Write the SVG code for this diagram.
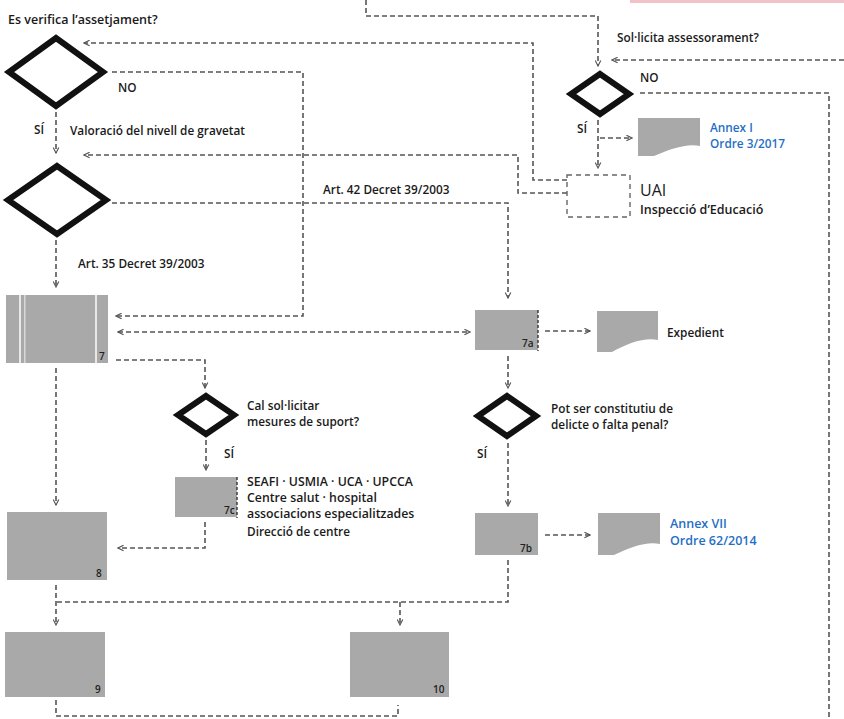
<svg xmlns="http://www.w3.org/2000/svg" width="844" height="719" viewBox="0 0 844 719">
<style>
text{font-family:"Open Sans","DejaVu Sans",sans-serif;font-weight:600;font-size:11.8px;fill:#1a1a1a}
.blue{fill:#1f6fc6}
.dia{fill:#fff;stroke:#111;stroke-width:6;stroke-linejoin:miter}
.box{fill:#a9a9a9}
.doc{fill:#a9a9a9}
.con{fill:none;stroke:#555;stroke-width:1.6;stroke-dasharray:5 3}
.edge{fill:none;stroke:#333;stroke-width:1.4;stroke-dasharray:3 2}
.lbl{font-size:10px;fill:#222}
</style>
<defs>
<marker id="ah" viewBox="0 0 10 10" refX="9" refY="5" markerWidth="7" markerHeight="7" orient="auto-start-reverse" markerUnits="userSpaceOnUse">
<path d="M1,1 L9,5 L1,9" fill="none" stroke="#555" stroke-width="1.6"/>
</marker>
</defs>
<rect x="630" y="0" width="214" height="3" fill="#f3c2c9"/>
<g id="connectors">
<path class="con" d="M366,0 V16 H598 V66" marker-end="url(#ah)"/>
<path class="con" d="M844,60 H612" marker-end="url(#ah)"/>
<path class="con" d="M567,180 H533 V43 H84" marker-end="url(#ah)"/>
<path class="con" d="M567,193 H518 V155 H84" marker-end="url(#ah)"/>
<path class="con" d="M112,72 H303 V316 H116" marker-end="url(#ah)"/>
<path class="con" d="M56,112 V153" marker-end="url(#ah)"/>
<path class="con" d="M112,203 H508 V298" marker-end="url(#ah)"/>
<path class="con" d="M56,240 V287" marker-end="url(#ah)"/>
<path class="con" d="M118,332 H470" marker-start="url(#ah)" marker-end="url(#ah)"/>
<path class="con" d="M116,360 H205 V388" marker-end="url(#ah)"/>
<path class="con" d="M206,440 V470" marker-end="url(#ah)"/>
<path class="con" d="M205,522 V548 H118" marker-end="url(#ah)"/>
<path class="con" d="M56,368 V505" marker-end="url(#ah)"/>
<path class="con" d="M545,331 H590" marker-end="url(#ah)"/>
<path class="con" d="M508,356 V388" marker-end="url(#ah)"/>
<path class="con" d="M508,443 V506" marker-end="url(#ah)"/>
<path class="con" d="M545,535 H590" marker-end="url(#ah)"/>
<path class="con" d="M598,120 V168" marker-end="url(#ah)"/>
<path class="con" d="M600,138 H632" marker-end="url(#ah)"/>
<path class="con" d="M508,560 V602 H56"/>
<path class="con" d="M56,585 V625" marker-end="url(#ah)"/>
<path class="con" d="M400,602 V625" marker-end="url(#ah)"/>
<path class="con" d="M56,700 V716 H398 V705"/>
<path class="con" d="M640,93 H829 V719"/>
</g>
<text x="8" y="24" style="font-size:12.5px">Es verifica l’assetjament?</text>
<g id="d1"><polygon class="dia" points="56,38 103,72 56,106 9,72"/></g>
<text x="118" y="92">NO</text>
<text x="34" y="134">SÍ</text>
<text x="70" y="135">Valoració del nivell de gravetat</text>
<g id="d2"><polygon class="dia" points="57,166 106,200 57,234 8,200"/></g>
<text x="323" y="194">Art. 42 Decret 39/2003</text>
<text x="78" y="268">Art. 35 Decret 39/2003</text>
<g id="b7">
<rect class="box" x="6" y="295" width="102" height="68"/>
<rect x="19" y="295" width="2" height="68" fill="#e8e8e8"/>
<rect x="24" y="295" width="1.5" height="68" fill="#d8d8d8"/>
<rect x="95" y="295" width="2" height="68" fill="#e8e8e8"/>
<text class="lbl" x="99" y="360">7</text>
</g>
<g id="b7a">
<rect class="box" x="475" y="310" width="63" height="40"/>
<path class="edge" d="M538,310 V351"/>
<text class="lbl" x="522" y="347">7a</text>
</g>
<g id="expedient">
<path class="doc" d="M597,311 H658 V340 C645,337 628,343 612,352 H597 Z"/>
<text x="667" y="337">Expedient</text>
</g>
<g id="d3"><polygon class="dia" points="206,396 234,415 206,434 178,415"/></g>
<text x="247" y="410">Cal sol·licitar</text>
<text x="247" y="426">mesures de suport?</text>
<text x="224" y="458">SÍ</text>
<g id="b7c">
<rect class="box" x="175" y="477" width="62" height="40"/>
<path class="edge" d="M237,477 V518"/>
<text class="lbl" x="224" y="514">7c</text>
</g>
<text x="247" y="486" style="font-size:12.3px">SEAFI · USMIA · UCA · UPCCA</text>
<text x="247" y="502" style="font-size:12.3px">Centre salut · hospital</text>
<text x="247" y="518" style="font-size:12.3px">associacions especialitzades</text>
<text x="247" y="536">Direcció de centre</text>
<g id="d4"><polygon class="dia" points="507,396 536,416 507,436 478,416"/></g>
<text x="551" y="413">Pot ser constitutiu de</text>
<text x="551" y="429">delicte o falta penal?</text>
<text x="477" y="458">SÍ</text>
<g id="b7b">
<rect class="box" x="475" y="513" width="63" height="42"/>
<text class="lbl" x="520" y="552">7b</text>
</g>
<g id="annex7">
<path class="doc" d="M598,513 H660 V544 C647,541 630,547 614,555 H598 Z"/>
<text class="blue" x="670" y="528" style="font-size:12.5px">Annex VII</text>
<text class="blue" x="670" y="545" style="font-size:12.5px">Ordre 62/2014</text>
</g>
<g id="b8">
<rect class="box" x="7" y="512" width="100" height="68"/>
<text class="lbl" x="96" y="577">8</text>
</g>
<g id="b9">
<rect class="box" x="5" y="632" width="100" height="65"/>
<text class="lbl" x="95" y="693">9</text>
</g>
<g id="b10">
<rect class="box" x="350" y="632" width="99" height="65"/>
<text class="lbl" x="433" y="693">10</text>
</g>
<text x="617" y="42">Sol·licita assessorament?</text>
<g id="dsol"><polygon class="dia" points="600,74 629,94 600,114 571,94"/></g>
<text x="640" y="82">NO</text>
<text x="577" y="133">SÍ</text>
<g id="annex1">
<path class="doc" d="M638,118 H700 V146 C687,143 670,149 654,156 H638 Z"/>
<text class="blue" x="710" y="132">Annex I</text>
<text class="blue" x="710" y="148">Ordre 3/2017</text>
</g>
<g id="uai">
<rect x="567" y="175" width="63" height="42" fill="none" stroke="#666" stroke-width="1.4" stroke-dasharray="5 4"/>
<text x="640" y="196" style="font-size:16px;font-weight:500">UAI</text>
<text x="640" y="214" style="font-size:12.5px">Inspecció d’Educació</text>
</g>
</svg>
